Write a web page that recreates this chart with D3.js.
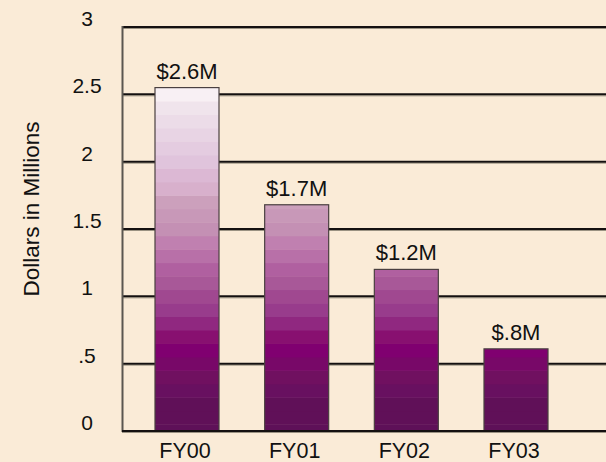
<!DOCTYPE html>
<html><head><meta charset="utf-8">
<script src="https://cdn.jsdelivr.net/npm/d3@7"></script>
<style>html,body{margin:0;padding:0;background:#faebd7;}svg{display:block;}</style>
</head><body>
<svg id="c" width="606" height="462"></svg>
<script>
const categories = ["FY00", "FY01", "FY02", "FY03"];
const values = [2.55, 1.68, 1.2, 0.61];
const valueLabels = ["$2.6M", "$1.7M", "$1.2M", "$.8M"];
const tickValues = [0, 0.5, 1, 1.5, 2, 2.5, 3];
const tickLabels = ["0", ".5", "1", "1.5", "2", "2.5", "3"];
const yTitle = "Dollars in Millions";
// stepped fill, one colour per 0.1 band of value
const bandColors = ["#5e1058","#601058","#601058","#681060","#701060","#780868","#800070",
  "#881070","#902880","#983c8c","#a04890","#a85898","#b060a0","#b870a8","#c080b0",
  "#c490b4","#c898b8","#cca0bc","#d8b0cc","#dcb8d4","#e0c4dc","#e4cce0","#e8d4e4",
  "#ecdce8","#f0e4ec","#f8f0f4","#f8f0f4"];

const svg = d3.select("#c");
const font = "'Liberation Sans', Arial, sans-serif";
const x0 = 122, x1 = 606;
const y = d3.scaleLinear().domain([0, 3]).range([431, 27]);
const x = d3.scalePoint().domain(categories).range([187, 516]);
const barW = 64;

svg.append("rect").attr("width", 606).attr("height", 462).attr("fill", "#faebd7");

// gridlines
const g = svg.append("g");
g.selectAll("line.gs").data(tickValues).join("line")
  .attr("x1", x0).attr("x2", x1)
  .attr("y1", d => y(d) + 1.5).attr("y2", d => y(d) + 1.5)
  .attr("stroke", "#9a9282").attr("stroke-width", 1);
g.selectAll("line.gl").data(tickValues).join("line")
  .attr("x1", x0).attr("x2", x1)
  .attr("y1", d => y(d)).attr("y2", d => y(d))
  .attr("stroke", "#141010").attr("stroke-width", 2);
// left axis line
svg.append("line").attr("x1", x0 + 0.5).attr("x2", x0 + 0.5)
  .attr("y1", y(3) - 1).attr("y2", y(0) + 1)
  .attr("stroke", "#5a5650").attr("stroke-width", 2);

// bars with stepped bands
const bars = svg.selectAll("g.bar").data(categories).join("g");
bars.each(function(c, i) {
  const v = values[i];
  const n = Math.ceil(v / 0.1 + 0.5);
  const segs = [];
  for (let k = 0; k < n; k++) {
    const lo = Math.max(0, k * 0.1 - 0.05), hi = Math.min(v, k * 0.1 + 0.05);
    if (hi > lo) segs.push({lo, hi, k});
  }
  const sel = d3.select(this);
  sel.selectAll("rect.s").data(segs).join("rect")
    .attr("x", x(c) - barW / 2).attr("width", barW)
    .attr("y", d => y(d.hi)).attr("height", d => y(d.lo) - y(d.hi) + 0.5)
    .attr("fill", d => bandColors[Math.min(d.k, bandColors.length - 1)]);
  sel.append("rect")
    .attr("x", x(c) - barW / 2).attr("width", barW)
    .attr("y", y(v)).attr("height", y(0) - y(v))
    .attr("fill", "none").attr("stroke", "#4a4040").attr("stroke-width", 1.2);
  sel.append("text").attr("x", x(c)).attr("y", y(v) - 9)
    .attr("text-anchor", "middle").attr("font-family", font).attr("font-size", 22)
    .attr("fill", "#111").text(valueLabels[i]);
});

// redraw baseline over bars
svg.append("line").attr("x1", x0).attr("x2", x1).attr("y1", y(0)).attr("y2", y(0))
  .attr("stroke", "#141010").attr("stroke-width", 2);

// y tick labels
svg.selectAll("text.yt").data(tickValues).join("text")
  .attr("x", 87).attr("y", d => y(d) - 1)
  .attr("text-anchor", "middle").attr("font-family", font).attr("font-size", 21)
  .attr("fill", "#111").text((d, i) => tickLabels[i]);

// x labels
svg.selectAll("text.xt").data(categories).join("text")
  .attr("x", d => x(d) - 2).attr("y", 457.5)
  .attr("text-anchor", "middle").attr("font-family", font).attr("font-size", 21.5)
  .attr("fill", "#111").text(d => d);

// y title
svg.append("text").attr("transform", "translate(38.5,209) rotate(-90)")
  .attr("text-anchor", "middle").attr("font-family", font).attr("font-size", 22.5)
  .attr("fill", "#111").text(yTitle);
</script>
</body></html>
